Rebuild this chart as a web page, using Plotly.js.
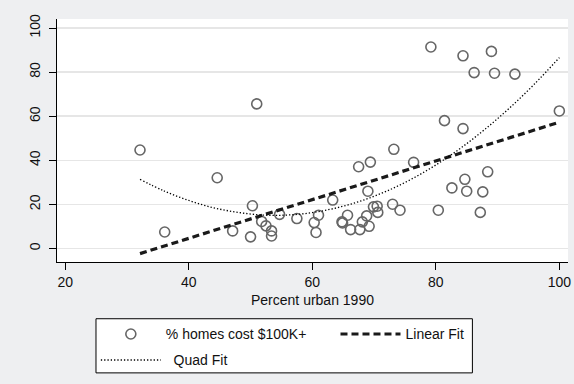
<!DOCTYPE html>
<html>
<head>
<meta charset="utf-8">
<script src="https://cdn.plot.ly/plotly-3.0.1.min.js"></script>
<style>html,body{margin:0;padding:0;background:#EEEFF1;}#chart{width:574px;height:384px;}</style>
</head>
<body>
<div id="chart"></div>
<script>
// Scatter data: percent urban 1990 vs % homes cost $100K+
var urban = [32.1, 36.1, 44.6, 47.1, 50.0, 50.3, 51.0, 51.8, 52.5, 53.4, 53.4, 54.7, 57.5,
  60.3, 60.6, 61.0, 63.3, 64.8, 64.9, 65.7, 66.2, 67.5, 67.7, 68.1, 68.8, 69.2, 69.0, 69.4,
  69.9, 70.5, 70.6, 73.0, 73.2, 74.2, 76.4, 79.2, 80.4, 81.4, 82.6, 84.4, 84.4, 84.7, 85.0,
  86.2, 87.2, 87.6, 88.4, 89.0, 89.5, 92.8, 100.0];
var homes = [44.7, 7.5, 32.1, 8.0, 5.3, 19.4, 65.6, 12.3, 10.3, 8.0, 5.7, 15.5, 13.6,
  11.8, 7.3, 15.1, 22.0, 12.1, 11.6, 15.1, 8.6, 37.1, 8.6, 12.1, 14.8, 10.1, 26.0, 39.2,
  18.9, 19.2, 16.4, 20.1, 45.0, 17.4, 39.1, 91.4, 17.4, 58.0, 27.5, 87.4, 54.4, 31.4, 26.0,
  79.8, 16.4, 25.7, 34.8, 89.4, 79.5, 79.1, 62.4];

// Linear fit
var linX = [32.1, 100.0];
var linY = [-2.3, 57.3];

// Quadratic fit
var quadX = [32.1, 36, 40, 44, 48, 52, 56, 60, 64, 68, 72, 76, 80, 84, 88, 92, 96, 100];
var quadY = [31.4, 26.1, 21.8, 18.5, 16.4, 15.2, 15.2, 16.3, 18.5, 21.7, 26.0, 31.4, 37.9,
  45.5, 54.2, 63.9, 74.7, 86.6];

var xTicks = [20, 40, 60, 80, 100];
var yTicks = [0, 20, 40, 60, 80, 100];

var FONT = 'Liberation Sans, Arial, sans-serif';

var traces = [
  {x: urban, y: homes, type: 'scatter', mode: 'markers', name: '% homes cost $100K+',
   legend: 'legend',
   marker: {symbol: 'circle-open', size: 10, color: '#666666', line: {width: 1.6, color: '#666666'}}},
  {x: linX, y: linY, type: 'scatter', mode: 'lines', name: 'Linear Fit', legend: 'legend2',
   line: {color: '#1a1a1a', width: 3.2, dash: '7px,4px'}},
  {x: quadX, y: quadY, type: 'scatter', mode: 'lines', name: '\u00a0\u00a0Quad Fit', legend: 'legend3',
   line: {color: '#000000', width: 1.3, dash: '1.3px,2px', shape: 'spline'}}
];

var legBase = {orientation: 'v', bgcolor: 'rgba(0,0,0,0)', borderwidth: 0,
  font: {family: FONT, size: 14, color: '#111'}, xanchor: 'left', yanchor: 'middle',
  itemwidth: 60, xref: 'paper', yref: 'paper'};

var layout = {
  width: 574, height: 384,
  paper_bgcolor: '#EEEFF1', plot_bgcolor: '#FFFFFF',
  margin: {l: 57, r: 6, t: 19, b: 122},
  font: {family: FONT, size: 14, color: '#111'},
  showlegend: true,
  xaxis: {range: [18.66, 101.4], tickvals: xTicks, ticktext: xTicks.map(String),
    showgrid: false, zeroline: false, showline: true, linecolor: '#000', linewidth: 1,
    ticks: 'outside', ticklen: 7, tickcolor: '#000', tickwidth: 1,
    tickfont: {family: FONT, size: 14, color: '#111'},
    title: {text: 'Percent urban 1990', font: {family: FONT, size: 14, color: '#111'}, standoff: 6}},
  yaxis: {range: [-6.1, 104.1], tickvals: yTicks, ticktext: yTicks.map(String),
    showgrid: true, gridcolor: '#E6E6E6', gridwidth: 1.5, zeroline: false,
    showline: true, linecolor: '#000', linewidth: 1,
    ticks: 'outside', ticklen: 7, tickcolor: '#000', tickwidth: 1, tickangle: -90,
    ticklabelstandoff: 3,
    tickfont: {family: FONT, size: 14, color: '#111'}},
  legend: Object.assign({}, legBase, {x: 0.076, y: -0.298}),
  legend2: Object.assign({}, legBase, {x: 0.545, y: -0.298}),
  legend3: Object.assign({}, legBase, {x: 0.076, y: -0.405}),
  shapes: [
    {type: 'rect', xref: 'paper', yref: 'paper', x0: 0.0763, x1: 0.8129, y0: -0.2335, y1: -0.4563,
     line: {color: '#000', width: 1}, fillcolor: '#FFFFFF', layer: 'below'}
  ]
};

Plotly.newPlot('chart', traces, layout, {displayModeBar: false, staticPlot: true});
</script>
</body>
</html>
